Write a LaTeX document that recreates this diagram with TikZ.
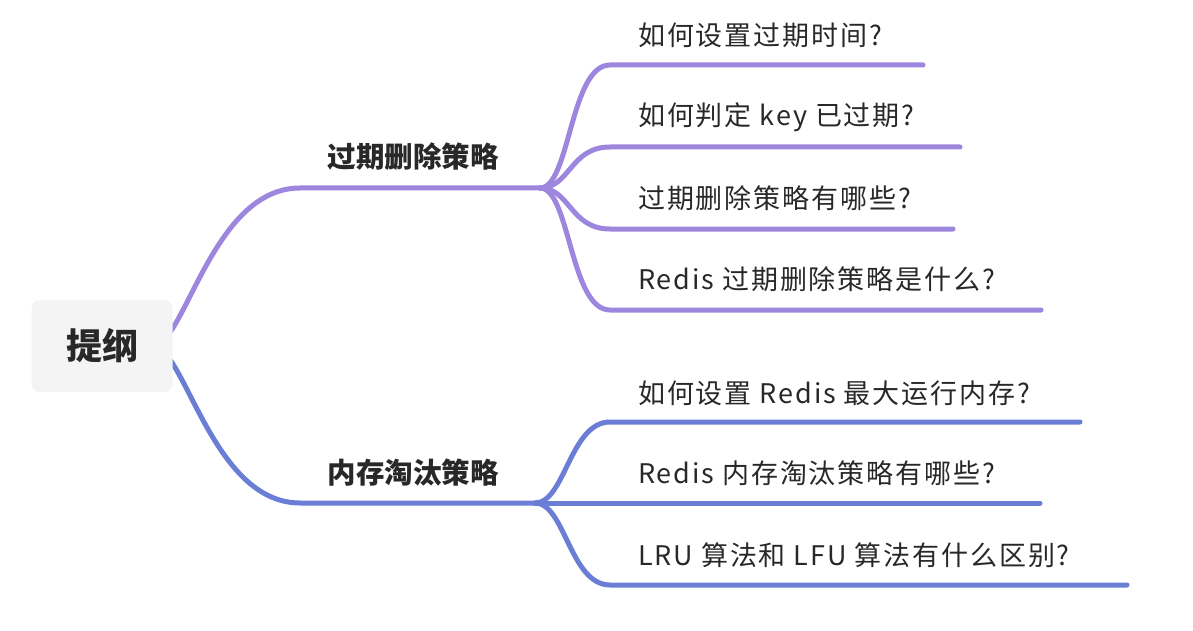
\documentclass[tikz,border=0pt]{standalone}
\usepackage{fontspec}
\setmainfont{Noto Sans CJK SC}
\newfontfamily\leaffont[LetterSpace=7]{Noto Sans CJK SC}
\usetikzlibrary{backgrounds}
\definecolor{expcol}{RGB}{157,134,222}
\definecolor{memcol}{RGB}{106,126,214}
\definecolor{txtcol}{RGB}{40,40,40}
\definecolor{rootfill}{RGB}{244,244,244}

\begin{document}
\begin{tikzpicture}[x=1pt,y=-1pt,
  rootbox/.style={fill=rootfill,rounded corners=8pt,minimum width=141pt,minimum height=92pt,text=txtcol,font=\fontsize{36}{40}\selectfont\bfseries},
  branchtext/.style={text=txtcol,font=\fontsize{28.5}{32}\selectfont\bfseries,inner sep=0pt},
  leaftext/.style={text=txtcol,font=\leaffont\fontsize{27}{31}\selectfont,anchor=west,inner sep=0pt},
  link/.style={line width=5pt,line cap=round}]
 \useasboundingbox (0,0) rectangle (1193,631);

 \node[rootbox] (root) at (102,346) {提纲};

 \coordinate (exa) at (300,188);
 \coordinate (exj) at (540,188);
 \node[branchtext] (ex) at (413,157) {过期删除策略};
 \coordinate (e1s) at (610,65);  \coordinate (e1e) at (923,65);
 \coordinate (e2s) at (610,147); \coordinate (e2e) at (960,147);
 \coordinate (e3s) at (610,229); \coordinate (e3e) at (953,229);
 \coordinate (e4s) at (610,310); \coordinate (e4e) at (1041,310);
 \node[leaftext] (e1) at (638,35) {如何设置过期时间?};
 \node[leaftext] (e2) at (638,117) {如何判定 key 已过期?};
 \node[leaftext] (e3) at (638,198) {过期删除策略有哪些?};
 \node[leaftext] (e4) at (638,279) {Redis 过期删除策略是什么?};

 \coordinate (mma) at (300,503);
 \coordinate (mmj) at (535,503);
 \node[branchtext] (mm) at (413,473) {内存淘汰策略};
 \coordinate (m1s) at (610,422); \coordinate (m1e) at (1080,422);
 \coordinate (m2e) at (1040,503);
 \coordinate (m3s) at (610,585); \coordinate (m3e) at (1127,585);
 \node[leaftext] (m1) at (638,393) {如何设置 Redis 最大运行内存?};
 \node[leaftext] (m2) at (638,473) {Redis 内存淘汰策略有哪些?};
 \node[leaftext] (m3) at (638,555) {LRU 算法和 LFU 算法有什么区别?};

 \begin{scope}[on background layer]
 \draw[link,expcol] ([xshift=-20pt]root.east) .. controls +(32,0) and +(-88,0) .. (exa) -- (exj);
 \draw[link,expcol] (exj) .. controls +(30,0) and +(-40,0) .. (e1s) -- (e1e);
 \draw[link,expcol] (exj) .. controls +(30,0) and +(-40,0) .. (e2s) -- (e2e);
 \draw[link,expcol] (exj) .. controls +(30,0) and +(-40,0) .. (e3s) -- (e3e);
 \draw[link,expcol] (exj) .. controls +(30,0) and +(-40,0) .. (e4s) -- (e4e);

 \draw[link,memcol] ([xshift=-20pt]root.east) .. controls +(32,0) and +(-88,0) .. (mma) -- (mmj);
 \draw[link,memcol] (mmj) .. controls +(30,0) and +(-40,0) .. (m1s) -- (m1e);
 \draw[link,memcol] (mmj) -- (m2e);
 \draw[link,memcol] (mmj) .. controls +(30,0) and +(-40,0) .. (m3s) -- (m3e);
 \end{scope}
\end{tikzpicture}
\end{document}
